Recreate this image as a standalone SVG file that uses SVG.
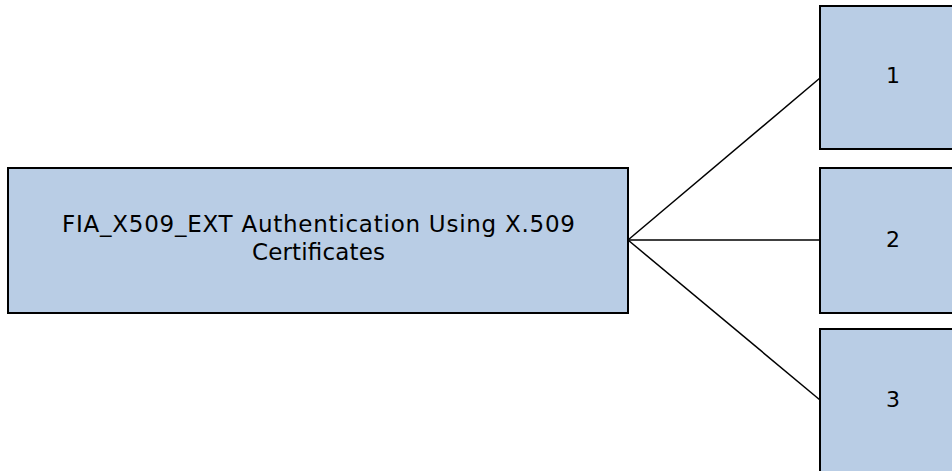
<svg xmlns="http://www.w3.org/2000/svg" width="952" height="471" viewBox="0 0 952 471">
  <style>
    .box { fill: #b9cde5; stroke: #000; stroke-width: 2; }
    .lbl { font-family: "DejaVu Sans", Verdana, sans-serif; font-size: 23px; fill: #000; text-anchor: middle; }
    .num { font-family: "DejaVu Sans", Verdana, sans-serif; font-size: 22px; fill: #000; text-anchor: middle; }
    .conn { stroke: #000; stroke-width: 1.5; fill: none; }
  </style>
  <rect x="0" y="0" width="952" height="471" fill="#fff"/>
  <g id="connectors">
    <line class="conn" x1="628" y1="240" x2="820" y2="78"/>
    <line class="conn" x1="628" y1="240" x2="820" y2="240"/>
    <line class="conn" x1="628" y1="240" x2="820" y2="400"/>
  </g>
  <g id="node-root">
    <rect class="box" x="8" y="168" width="620" height="145"/>
    <text class="lbl" x="318.5" y="232" textLength="513" lengthAdjust="spacing">FIA_X509_EXT Authentication Using X.509</text>
    <text class="lbl" x="318.5" y="260" textLength="133" lengthAdjust="spacing">Certificates</text>
  </g>
  <g id="node-1">
    <rect class="box" x="820" y="6" width="140" height="143"/>
    <text class="num" x="893" y="83">1</text>
  </g>
  <g id="node-2">
    <rect class="box" x="820" y="168" width="140" height="145"/>
    <text class="num" x="893" y="247">2</text>
  </g>
  <g id="node-3">
    <rect class="box" x="820" y="329" width="140" height="150"/>
    <text class="num" x="893" y="407">3</text>
  </g>
</svg>
